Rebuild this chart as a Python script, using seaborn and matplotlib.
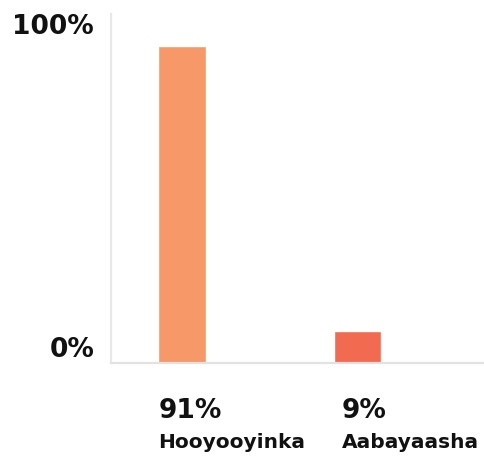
import matplotlib
matplotlib.use("Agg")
import matplotlib.pyplot as plt
import matplotlib.transforms as mtransforms
import seaborn as sns
import pandas as pd

# chart data
categories = ["Hooyooyinka", "Aabayaasha"]
values = [91, 9]
value_labels = ["91%", "9%"]
bar_colors = ["#F69868", "#F26A50"]
ytick_vals = [0, 100]
ytick_labels = ["0%", "100%"]

df = pd.DataFrame({"who": categories, "pct": values})

sns.set_style("white")
plt.rcParams["font.family"] = ["DejaVu Sans"]

fig = plt.figure(figsize=(4.84, 4.57), dpi=100)
ax = fig.add_axes([0.229, 0.206, 0.771, 0.763])

sns.barplot(data=df, x="who", y="pct", hue="who", palette=bar_colors,
            width=0.27, legend=False, ax=ax, saturation=1)

ax.set_xlim(-0.405, 1.72)
ax.set_ylim(0, 100)
ax.set_xlabel("")
ax.set_ylabel("")
ax.set_xticks([])

ax.set_yticks(ytick_vals)
ax.set_yticklabels(ytick_labels, fontsize=19, fontweight="bold", color="#111111")
ax.tick_params(axis="y", length=0, pad=12)
labs = ax.get_yticklabels()
labs[0].set_va("bottom")
labs[1].set_va("top")

for side in ["top", "right"]:
    ax.spines[side].set_visible(False)
ax.spines["left"].set_color("#e8e8e8")
ax.spines["bottom"].set_color("#e2e2e2")
ax.spines["left"].set_linewidth(1.6)
ax.spines["bottom"].set_linewidth(1.6)

# labels under the bars
trans = mtransforms.blended_transform_factory(ax.transData, ax.transAxes)
offsets = [-0.135, -0.09]
for i, (cat, vl) in enumerate(zip(categories, value_labels)):
    ax.text(i + offsets[i], -0.102, vl, transform=trans, ha="left", va="top",
            fontsize=19, fontweight="bold", color="#111111")
    ax.text(i + offsets[i], -0.20, cat, transform=trans, ha="left", va="top",
            fontsize=14.5, fontweight="bold", color="#111111")

fig.savefig("out.png", dpi=100)
